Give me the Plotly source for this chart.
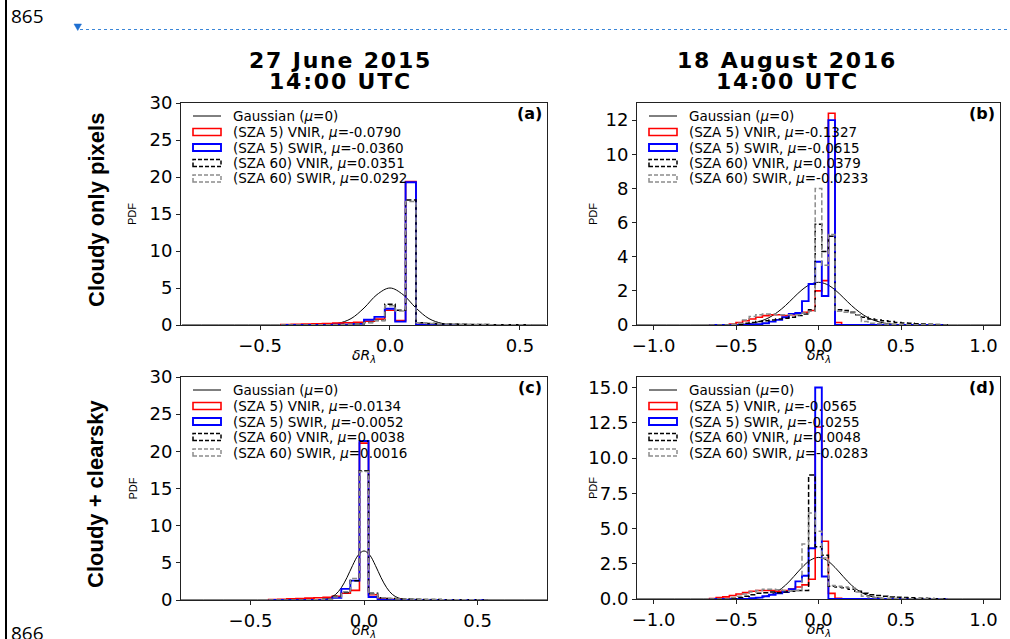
import plotly.graph_objects as go

W, H = 1010, 639

# ---------------- data ----------------
edges_ac = [-0.42, -0.38, -0.34, -0.30, -0.26, -0.22, -0.18, -0.14, -0.10, -0.06,
            -0.02, 0.02, 0.06, 0.10, 0.14, 0.18, 0.22, 0.26, 0.30, 0.34, 0.38,
            0.42, 0.46, 0.50, 0.54]
edges_bd = [-0.66, -0.62, -0.58, -0.54, -0.50, -0.46, -0.42, -0.38, -0.34, -0.30,
            -0.26, -0.22, -0.18, -0.14, -0.10, -0.06, -0.02, 0.02, 0.06, 0.10,
            0.14, 0.18, 0.22, 0.26, 0.30, 0.34, 0.38, 0.42, 0.46, 0.50, 0.54,
            0.58, 0.62, 0.66, 0.70, 0.74, 0.78]

# panel (a)
red_a = [0.05, 0.1, 0.12, 0.15, 0.2, 0.25, 0.3, 0.35, 0.5, 0.8, 2.0, 0.6, 19.4, 0.05,
         0.02, 0, 0, 0, 0, 0, 0, 0, 0, 0]
blue_a = [0, 0, 0, 0, 0.02, 0.03, 0.05, 0.15, 0.7, 1.1, 2.2, 0.45, 19.3, 0.05,
          0, 0, 0, 0, 0, 0, 0, 0, 0, 0]
black_a = [0, 0, 0, 0.02, 0.03, 0.05, 0.08, 0.15, 0.35, 0.6, 2.8, 2.0, 16.9, 0.3,
           0.2, 0.15, 0.12, 0.1, 0.08, 0.06, 0.05, 0.04, 0.03, 0.02]
gray_a = [0, 0, 0, 0.02, 0.03, 0.05, 0.08, 0.15, 0.35, 0.6, 2.6, 1.9, 16.7, 0.3,
          0.2, 0.15, 0.12, 0.1, 0.08, 0.06, 0.05, 0.04, 0.03, 0.02]
gauss_x_a = [-0.8, -0.4, -0.3, -0.25, -0.2, -0.15, -0.1, -0.05, 0.0, 0.05, 0.1,
             0.15, 0.2, 0.25, 0.3, 0.4, 0.6]
gauss_y_a = [0, 0, 0.004, 0.038, 0.22, 0.86, 2.29, 4.11, 5.0, 4.11, 2.29, 0.86,
             0.22, 0.038, 0.004, 0, 0]

# panel (b)
red_b = [0, 0, 0, 0.05, 0.15, 0.25, 0.35, 0.45, 0.55, 0.6, 0.6, 0.55, 0.6, 0.7,
         0.75, 0.85, 2.0, 2.6, 12.4, 0.15, 0, 0, 0, 0, 0, 0, 0, 0, 0, 0, 0, 0, 0,
         0, 0, 0]
blue_b = [0, 0, 0, 0, 0, 0, 0.03, 0.05, 0.1, 0.2, 0.3, 0.45, 0.65, 0.7, 1.4, 2.4,
          3.7, 1.7, 12.0, 0, 0, 0, 0, 0, 0, 0, 0, 0, 0, 0, 0, 0, 0, 0, 0, 0]
black_b = [0, 0, 0, 0, 0.05, 0.1, 0.15, 0.2, 0.25, 0.3, 0.35, 0.4, 0.45, 0.55,
           0.65, 0.9, 5.9, 4.3, 5.2, 0.9, 0.85, 0.75, 0.6, 0.45, 0.35, 0.3, 0.25,
           0.2, 0.15, 0.12, 0.1, 0.08, 0.06, 0.05, 0.03, 0.02]
gray_b = [0, 0, 0, 0.05, 0.1, 0.3, 0.5, 0.6, 0.65, 0.65, 0.6, 0.6, 0.6, 0.6, 0.7,
          0.8, 8.0, 3.5, 5.3, 0.8, 0.75, 0.7, 0.6, 0.2, 0.1, 0.08, 0.06, 0.05,
          0.04, 0.03, 0.02, 0.02, 0.01, 0.01, 0, 0]
gauss_x_b = [-1.1, -0.6, -0.5, -0.45, -0.4, -0.35, -0.3, -0.25, -0.2, -0.15, -0.1,
             -0.05, 0.0, 0.05, 0.1, 0.15, 0.2, 0.25, 0.3, 0.35, 0.4, 0.45, 0.5,
             0.6, 1.1]
gauss_y_b = [0, 0.002, 0.019, 0.048, 0.11, 0.23, 0.43, 0.74, 1.14, 1.61, 2.06,
             2.38, 2.5, 2.38, 2.06, 1.61, 1.14, 0.74, 0.43, 0.23, 0.11, 0.048,
             0.019, 0.002, 0]

# panel (c)
red_c = [0.05, 0.1, 0.15, 0.2, 0.25, 0.3, 0.35, 0.5, 0.9, 1.3, 21.1, 0.7, 0.2,
         0.1, 0.05, 0.03, 0.02, 0, 0, 0, 0, 0, 0, 0]
blue_c = [0, 0, 0, 0, 0, 0, 0.05, 0.3, 1.5, 2.6, 21.4, 0.4, 0.05, 0, 0, 0, 0, 0,
          0, 0, 0, 0, 0, 0]
black_c = [0, 0, 0, 0, 0.02, 0.03, 0.1, 0.5, 1.0, 2.6, 17.4, 0.9, 0.3, 0.2, 0.15,
           0.12, 0.1, 0.08, 0.06, 0.05, 0.04, 0.03, 0.02, 0.01]
gray_c = [0, 0, 0, 0, 0.02, 0.03, 0.1, 0.4, 1.1, 2.9, 17.3, 0.8, 0.3, 0.2, 0.15,
          0.12, 0.1, 0.08, 0.06, 0.05, 0.04, 0.03, 0.02, 0.01]
gauss_x_c = [-0.81, -0.3, -0.25, -0.2, -0.175, -0.15, -0.125, -0.1, -0.075, -0.05,
             -0.025, 0.0, 0.025, 0.05, 0.075, 0.1, 0.125, 0.15, 0.175, 0.2, 0.25,
             0.3, 0.81]
gauss_y_c = [0, 0, 0.001, 0.026, 0.094, 0.29, 0.75, 1.65, 3.02, 4.66, 6.05, 6.6,
             6.05, 4.66, 3.02, 1.65, 0.75, 0.29, 0.094, 0.026, 0.001, 0, 0]

# panel (d)
red_d = [0.03, 0.1, 0.15, 0.25, 0.35, 0.45, 0.55, 0.6, 0.6, 0.6, 0.55, 0.6, 0.7,
         0.85, 1.0, 1.4, 12.2, 4.1, 0.4, 0.05, 0, 0, 0, 0, 0, 0, 0, 0, 0, 0, 0, 0,
         0, 0, 0, 0]
blue_d = [0, 0, 0, 0, 0, 0, 0.05, 0.1, 0.2, 0.3, 0.4, 0.5, 0.7, 1.25, 1.65, 3.6,
          15.0, 1.6, 0, 0, 0, 0, 0, 0, 0, 0, 0, 0, 0, 0, 0, 0, 0, 0, 0, 0]
black_d = [0, 0, 0, 0.05, 0.1, 0.2, 0.3, 0.4, 0.45, 0.5, 0.45, 0.5, 0.55, 0.6, 0.6,
           8.8, 3.7, 3.1, 0.9, 0.85, 0.8, 0.7, 0.55, 0.4, 0.3, 0.25, 0.2, 0.15,
           0.12, 0.1, 0.08, 0.06, 0.05, 0.03, 0.02, 0.01]
gray_d = [0, 0, 0, 0.1, 0.2, 0.35, 0.5, 0.6, 0.7, 0.7, 0.65, 0.6, 0.55, 0.6, 3.9,
          6.1, 4.8, 2.9, 0.95, 0.9, 0.85, 0.8, 0.5, 0.2, 0.1, 0.08, 0.06, 0.05,
          0.04, 0.03, 0.02, 0.02, 0.01, 0.01, 0, 0]
gauss_x_d = [-1.1, -0.5, -0.45, -0.4, -0.35, -0.3, -0.25, -0.2, -0.15, -0.1, -0.05,
             0.0, 0.05, 0.1, 0.15, 0.2, 0.25, 0.3, 0.35, 0.4, 0.45, 0.5, 1.1]
gauss_y_d = [0, 0.003, 0.011, 0.037, 0.10, 0.25, 0.53, 0.98, 1.59, 2.24, 2.75,
             2.95, 2.75, 2.24, 1.59, 0.98, 0.53, 0.25, 0.10, 0.037, 0.011, 0.003, 0]

legend_labels_a = ["Gaussian (<i>μ</i>=0)", "(SZA 5) VNIR, <i>μ</i>=-0.0790",
                   "(SZA 5) SWIR, <i>μ</i>=-0.0360", "(SZA 60) VNIR, <i>μ</i>=0.0351",
                   "(SZA 60) SWIR, <i>μ</i>=0.0292"]
legend_labels_b = ["Gaussian (<i>μ</i>=0)", "(SZA 5) VNIR, <i>μ</i>=-0.1327",
                   "(SZA 5) SWIR, <i>μ</i>=-0.0615", "(SZA 60) VNIR, <i>μ</i>=0.0379",
                   "(SZA 60) SWIR, <i>μ</i>=-0.0233"]
legend_labels_c = ["Gaussian (<i>μ</i>=0)", "(SZA 5) VNIR, <i>μ</i>=-0.0134",
                   "(SZA 5) SWIR, <i>μ</i>=-0.0052", "(SZA 60) VNIR, <i>μ</i>=0.0038",
                   "(SZA 60) SWIR, <i>μ</i>=0.0016"]
legend_labels_d = ["Gaussian (<i>μ</i>=0)", "(SZA 5) VNIR, <i>μ</i>=-0.0565",
                   "(SZA 5) SWIR, <i>μ</i>=-0.0255", "(SZA 60) VNIR, <i>μ</i>=0.0048",
                   "(SZA 60) SWIR, <i>μ</i>=-0.0283"]

col_titles = ["27 June 2015", "14:00 UTC", "18 August 2016", "14:00 UTC"]
row_titles = ["Cloudy only pixels", "Cloudy + clearsky"]
line_numbers = ["865", "866"]

yticks_ac = [0, 5, 10, 15, 20, 25, 30]
yticks_b = [0, 2, 4, 6, 8, 10, 12]
yticks_d = [0, 2.5, 5, 7.5, 10, 12.5, 15]
yticktext_d = ["0.0", "2.5", "5.0", "7.5", "10.0", "12.5", "15.0"]
xticks_ac = [-0.5, 0.0, 0.5]
xticktext_ac = ["−0.5", "0.0", "0.5"]
xticks_bd = [-1.0, -0.5, 0.0, 0.5, 1.0]
xticktext_bd = ["−1.0", "−0.5", "0.0", "0.5", "1.0"]

# ---------------- layout helpers ----------------
def fx(p):
    return p / W


def fy(p):
    return 1 - p / H


def spaced(t, px):
    return '<span style="letter-spacing:%.1fpx">%s</span>' % (px, t)


panels = [
    # key, axis suffix, px box (left, right, top, bottom), x range, y range
    ("a", "", (181, 547, 103, 325), [-0.804, 0.604], [0, 30]),
    ("b", "2", (637, 1000, 103, 325), [-1.1, 1.1], [0, 13.0]),
    ("c", "3", (181, 547, 377, 600), [-0.806, 0.806], [0, 30]),
    ("d", "4", (637, 1000, 377, 599), [-1.1, 1.1], [0, 15.75]),
]

series = {
    "a": (edges_ac, red_a, blue_a, black_a, gray_a, gauss_x_a, gauss_y_a, legend_labels_a),
    "b": (edges_bd, red_b, blue_b, black_b, gray_b, gauss_x_b, gauss_y_b, legend_labels_b),
    "c": (edges_ac, red_c, blue_c, black_c, gray_c, gauss_x_c, gauss_y_c, legend_labels_c),
    "d": (edges_bd, red_d, blue_d, black_d, gray_d, gauss_x_d, gauss_y_d, legend_labels_d),
}

ticks = {
    "a": (xticks_ac, xticktext_ac, yticks_ac, [str(v) for v in yticks_ac]),
    "b": (xticks_bd, xticktext_bd, yticks_b, [str(v) for v in yticks_b]),
    "c": (xticks_ac, xticktext_ac, yticks_ac, [str(v) for v in yticks_ac]),
    "d": (xticks_bd, xticktext_bd, yticks_d, yticktext_d),
}

styles = [
    dict(color="#ff0000", width=1.6, dash="solid"),
    dict(color="#0000ff", width=1.9, dash="solid"),
    dict(color="#000000", width=1.5, dash="5px,2.5px"),
    dict(color="#8c8c8c", width=1.5, dash="5px,2.5px"),
]


def step_xy(edges, vals):
    xs = [edges[0]] + list(edges[:-1]) + [edges[-1]]
    ys = [0] + list(vals) + [0]
    return xs, ys


fig = go.Figure()
shapes = []
annotations = []
layout_axes = {}
FONT = "DejaVu Sans"

for key, suf, (L, R, T, B), xr, yr in panels:
    edges, r, bl, bk, gr, gx, gy, labels = series[key]
    xa = "x" + suf
    ya = "y" + suf
    fig.add_trace(go.Scatter(x=gx, y=gy, mode="lines", line=dict(color="black", width=1, shape="spline"),
                             xaxis=xa, yaxis=ya, showlegend=False, hoverinfo="skip"))
    for vals, st in zip([r, bl, bk, gr], styles):
        xs, ys = step_xy(edges, vals)
        fig.add_trace(go.Scatter(x=xs, y=ys, mode="lines",
                                 line=dict(color=st["color"], width=st["width"], dash=st["dash"], shape="hv"),
                                 xaxis=xa, yaxis=ya, showlegend=False, hoverinfo="skip"))
    xt, xtt, yt, ytt = ticks[key]
    common = dict(showline=True, linecolor="#222", linewidth=1, mirror=True, ticks="outside",
                  ticklen=4, tickcolor="#222", showgrid=False, zeroline=False, automargin=False,
                  tickfont=dict(family=FONT, size=18, color="black"))
    layout_axes["xaxis" + suf] = dict(domain=[fx(L), fx(R)], range=xr, anchor=ya,
                                      tickvals=xt, ticktext=xtt, **common)
    layout_axes["yaxis" + suf] = dict(domain=[fy(B), fy(T)], range=yr, anchor=xa,
                                      tickvals=yt, ticktext=ytt, **common)

    # legend (drawn by hand, inside upper-left)
    rows = [T + 13, T + 29, T + 44.5, T + 60, T + 75.5]
    shapes.append(dict(type="line", xref="paper", yref="paper",
                       x0=fx(L + 12), x1=fx(L + 40), y0=fy(rows[0]), y1=fy(rows[0]),
                       line=dict(color="black", width=1)))
    for i, st in enumerate(styles):
        yc = rows[i + 1]
        shapes.append(dict(type="rect", xref="paper", yref="paper",
                           x0=fx(L + 12), x1=fx(L + 40), y0=fy(yc + 3.5), y1=fy(yc - 3.5),
                           line=dict(color=st["color"], width=st["width"],
                                     dash="solid" if st["dash"] == "solid" else "4px,2px")))
    for i, lab in enumerate(labels):
        annotations.append(dict(text=lab, xref="paper", yref="paper", x=fx(L + 50),
                                y=fy(rows[i]), xanchor="left", yanchor="middle", showarrow=False,
                                font=dict(family=FONT, size=13.5, color="black")))
    # panel letter
    annotations.append(dict(text="<b>(%s)</b>" % key, xref="paper", yref="paper", x=fx(R - 3),
                            y=fy(T + 10), xanchor="right", yanchor="middle", showarrow=False,
                            font=dict(family=FONT, size=16, color="black")))
    # axis titles
    annotations.append(dict(text="<i>δR</i><sub><i>λ</i></sub>", xref="paper", yref="paper",
                            x=fx((L + R) / 2), y=fy(B + 31), xanchor="center", yanchor="middle",
                            showarrow=False, font=dict(family=FONT, size=14, color="black")))
    annotations.append(dict(text="PDF", xref="paper", yref="paper", textangle=-90,
                            x=fx(L - 49 if key in "ac" else L - 44), y=fy((T + B) / 2),
                            xanchor="center", yanchor="middle", showarrow=False,
                            font=dict(family="Liberation Sans", size=11, color="black")))

# column titles
for text, xc, yc in [(col_titles[0], 340, 60), (col_titles[1], 340, 82),
                     (col_titles[2], 787, 60), (col_titles[3], 787, 82)]:
    annotations.append(dict(text="<b>" + spaced(text, 1.8) + "</b>", xref="paper", yref="paper",
                            x=fx(xc), y=fy(yc), xanchor="center", yanchor="middle", showarrow=False,
                            font=dict(family=FONT, size=22, color="black")))
# row titles
for text, yc in [(row_titles[0], 210), (row_titles[1], 494)]:
    annotations.append(dict(text="<b>" + text + "</b>", xref="paper", yref="paper", x=fx(96), y=fy(yc),
                            textangle=-90, xanchor="center", yanchor="middle", showarrow=False,
                            font=dict(family="Liberation Sans", size=22, color="black")))

# page decorations: line numbers (as shape labels, so they never push margins)
for text, yc in [(line_numbers[0], 17), (line_numbers[1], 634)]:
    shapes.append(dict(type="rect", xref="paper", yref="paper", x0=fx(8), x1=fx(60),
                       y0=fy(yc + 8), y1=fy(yc - 8), line=dict(width=0), fillcolor="rgba(0,0,0,0)",
                       label=dict(text=text, textposition="middle left", padding=0,
                                  font=dict(family="Open Sans", size=19, color="black"))))
shapes.append(dict(type="line", xref="paper", yref="paper", x0=fx(6), x1=fx(6), y0=0, y1=1,
                   line=dict(color="black", width=2)))
shapes.append(dict(type="line", xref="paper", yref="paper", x0=fx(80), x1=1, y0=fy(29.5), y1=fy(29.5),
                   line=dict(color="#3a86d8", width=1, dash="dot")))
shapes.append(dict(type="path", xref="paper", yref="paper",
                   path="M %f %f L %f %f L %f %f Z" % (fx(74), fy(24), fx(81.5), fy(24), fx(77.75), fy(30.5)),
                   fillcolor="#1f6fd1", line=dict(color="#1f6fd1", width=0.5)))

fig.update_layout(width=W, height=H, margin=dict(l=0, r=0, t=0, b=0, pad=0),
                  paper_bgcolor="white", plot_bgcolor="white", showlegend=False,
                  shapes=shapes, annotations=annotations, **layout_axes)

fig.write_html("out.html",
               post_script="document.body.style.margin='0';document.body.style.overflow='hidden';")
